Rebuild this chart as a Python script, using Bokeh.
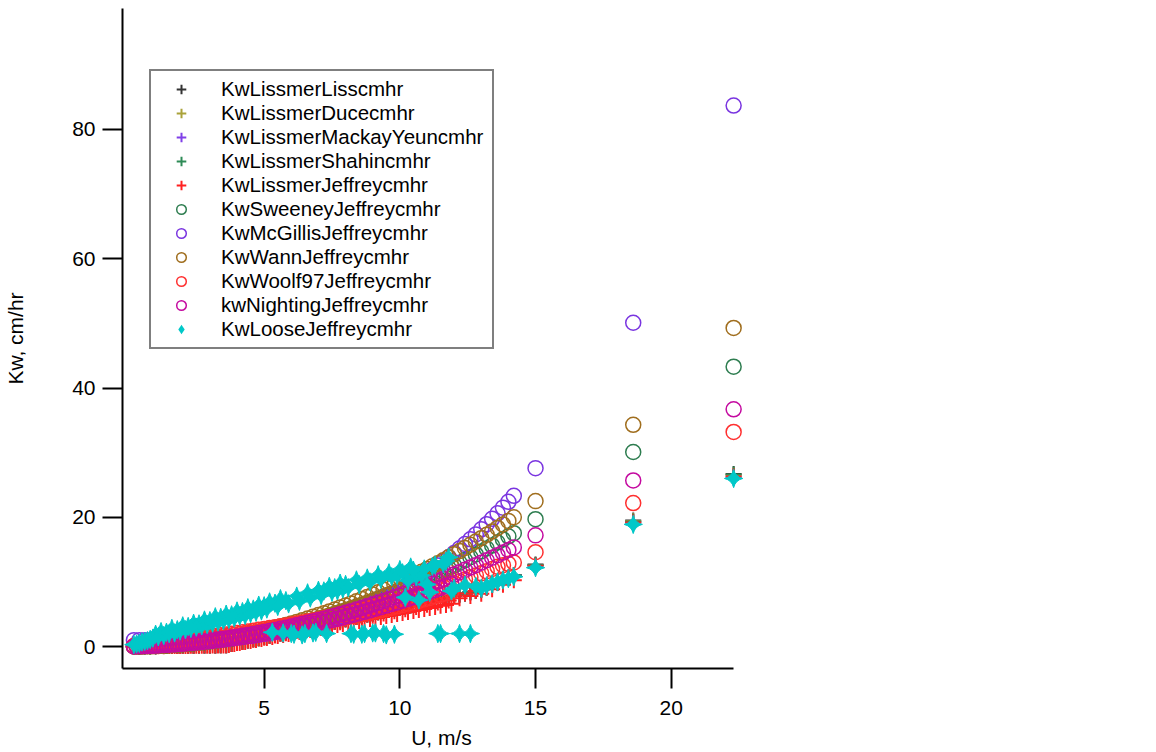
import math
from bokeh.plotting import figure
from bokeh.models import Range1d, FixedTicker, Legend, LegendItem
from bokeh.embed import file_html
from bokeh.resources import INLINE

# Wind speed (m/s), first batch of samples
U = [0.2, 0.4, 0.6, 0.8, 1.0, 1.2, 1.4, 1.6, 1.8, 2.0, 2.2, 2.4, 2.6, 2.8, 3.0, 3.2, 3.4, 3.6,
     3.8, 4.0, 4.2, 4.4, 4.6, 4.8, 5.0, 5.2, 5.4, 5.6, 5.8, 6.0, 6.2, 6.4, 6.6, 6.8, 7.0, 7.2,
     7.4, 7.6, 7.8, 8.0, 8.2, 8.4, 8.6, 8.8, 9.0, 9.2, 9.4, 9.6, 9.8, 10.0, 10.2, 10.4, 10.6,
     10.8, 11.0, 11.2, 11.4, 11.6, 11.8, 12.0, 12.2, 12.4, 12.6, 12.8, 13.0, 13.2, 13.4, 13.6,
     13.8, 14.0, 14.2, 15.0, 18.6, 22.3]
# second batch of samples (other water temperatures)
U_b = [0.3, 0.5, 0.7, 0.9, 1.1, 1.3, 1.5, 1.7, 1.9, 2.1, 2.3, 2.5, 2.7, 2.9, 3.1, 3.3, 3.5, 3.7,
       3.9, 4.1, 4.3, 4.5, 4.7, 4.9, 5.1, 5.3, 5.5, 5.7, 5.9, 6.1, 6.3, 6.5, 6.7, 6.9, 7.1, 7.3,
       7.5, 7.7, 7.9, 8.1, 8.3, 8.5, 8.7, 8.9, 9.1, 9.3, 9.5, 9.7, 9.9, 10.1, 10.3, 10.5, 10.7,
       10.9, 11.1, 11.3, 11.5, 11.7, 11.9]

kw_lissmer_liss = [0.01, 0.02, 0.03, 0.04, 0.05, 0.07, 0.08, 0.09, 0.10, 0.11, 0.12, 0.13, 0.14, 0.15, 0.16, 0.17, 0.18, 0.20,
                   0.38, 0.56, 0.74, 0.93, 1.11, 1.29, 1.47, 1.65, 1.84, 2.02, 2.20, 2.38, 2.57, 2.75, 2.93, 3.11, 3.30, 3.48,
                   3.66, 3.84, 4.03, 4.21, 4.39, 4.57, 4.76, 4.94, 5.12, 5.30, 5.48, 5.67, 5.85, 6.03, 6.21, 6.40, 6.58,
                   6.76, 6.94, 7.13, 7.31, 7.49, 7.67, 7.86, 8.04, 8.22, 8.40, 8.59, 8.77, 9.14, 9.52, 9.90,
                   10.27, 10.65, 11.03, 12.7, 19.5, 26.7]
kw_lissmer_duce = [0.01, 0.02, 0.03, 0.04, 0.05, 0.07, 0.08, 0.09, 0.10, 0.11, 0.12, 0.13, 0.14, 0.15, 0.16, 0.17, 0.18, 0.20,
                   0.38, 0.56, 0.74, 0.93, 1.11, 1.29, 1.47, 1.65, 1.84, 2.02, 2.20, 2.38, 2.57, 2.75, 2.93, 3.11, 3.30, 3.48,
                   3.66, 3.84, 4.03, 4.21, 4.39, 4.57, 4.76, 4.94, 5.12, 5.30, 5.48, 5.67, 5.85, 6.03, 6.21, 6.40, 6.58,
                   6.76, 6.94, 7.13, 7.31, 7.49, 7.67, 7.86, 8.04, 8.22, 8.40, 8.59, 8.77, 9.14, 9.52, 9.90,
                   10.27, 10.65, 11.03, 12.6, 19.4, 26.5]
kw_lissmer_mackay = [0.01, 0.02, 0.03, 0.04, 0.05, 0.07, 0.08, 0.09, 0.10, 0.11, 0.12, 0.13, 0.14, 0.15, 0.16, 0.17, 0.18, 0.20,
                     0.38, 0.56, 0.74, 0.93, 1.11, 1.29, 1.47, 1.65, 1.84, 2.02, 2.20, 2.38, 2.57, 2.75, 2.93, 3.11, 3.30, 3.48,
                     3.66, 3.84, 4.03, 4.21, 4.39, 4.57, 4.76, 4.94, 5.12, 5.30, 5.48, 5.67, 5.85, 6.03, 6.21, 6.40, 6.58,
                     6.76, 6.94, 7.13, 7.31, 7.49, 7.67, 7.86, 8.04, 8.22, 8.40, 8.59, 8.77, 9.14, 9.52, 9.90,
                     10.27, 10.65, 11.03, 12.5, 19.2, 26.2]
kw_lissmer_shahin = [0.01, 0.02, 0.03, 0.04, 0.05, 0.07, 0.08, 0.09, 0.10, 0.11, 0.12, 0.13, 0.14, 0.15, 0.16, 0.17, 0.18, 0.20,
                     0.38, 0.56, 0.74, 0.93, 1.11, 1.29, 1.47, 1.65, 1.84, 2.02, 2.20, 2.38, 2.57, 2.75, 2.93, 3.11, 3.30, 3.48,
                     3.66, 3.84, 4.03, 4.21, 4.39, 4.57, 4.76, 4.94, 5.12, 5.30, 5.48, 5.67, 5.85, 6.03, 6.21, 6.40, 6.58,
                     6.76, 6.94, 7.13, 7.31, 7.49, 7.67, 7.86, 8.04, 8.22, 8.40, 8.59, 8.77, 9.14, 9.52, 9.90,
                     10.27, 10.65, 11.03, 12.6, 19.3, 26.6]
kw_lissmer_jeffrey = [0.01, 0.02, 0.03, 0.04, 0.05, 0.07, 0.08, 0.09, 0.10, 0.11, 0.12, 0.13, 0.14, 0.15, 0.16, 0.17, 0.18, 0.20,
                      0.38, 0.56, 0.69, 0.93, 1.03, 1.29, 1.37, 1.65, 1.71, 2.02, 2.05, 2.38, 2.39, 2.75, 2.72, 3.11, 3.07, 3.48,
                      3.40, 3.84, 3.75, 4.21, 4.08, 4.57, 4.43, 4.94, 4.76, 5.30, 5.10, 5.67, 5.44, 6.03, 5.78, 6.40, 6.12,
                      6.76, 6.45, 7.13, 6.80, 7.49, 7.13, 7.86, 7.48, 8.22, 7.81, 8.59, 8.16, 9.14, 8.85, 9.90,
                      9.55, 10.65, 10.26, 12.5, 19.2, 26.3]
kw_lissmer_jeffrey_b = [0.01, 0.02, 0.03, 0.04, 0.05, 0.06, 0.07, 0.08, 0.09, 0.10, 0.11, 0.12, 0.12, 0.13, 0.14, 0.15, 0.16, 0.24,
                        0.40, 0.55, 0.71, 0.86, 1.02, 1.17, 1.33, 1.48, 1.64, 1.79, 1.95, 2.10, 2.26, 2.41, 2.57, 2.72, 2.88, 3.03,
                        3.19, 3.34, 3.50, 3.65, 3.81, 3.96, 4.12, 4.27, 4.43, 4.58, 4.74, 4.89, 5.05, 5.20, 5.36, 5.51, 5.67,
                        5.82, 5.98, 6.13, 6.29, 6.44, 6.60]
kw_sweeney = [0.00, 0.01, 0.03, 0.06, 0.09, 0.13, 0.17, 0.22, 0.28, 0.35, 0.42, 0.50, 0.59, 0.68, 0.78, 0.89, 1.01, 1.13,
              1.26, 1.39, 1.53, 1.68, 1.84, 2.00, 2.18, 2.35, 2.54, 2.73, 2.93, 3.13, 3.34, 3.56, 3.79, 4.02, 4.26, 4.51,
              4.76, 5.03, 5.29, 5.57, 5.85, 6.14, 6.43, 6.74, 7.05, 7.36, 7.69, 8.02, 8.36, 8.70, 9.05, 9.41, 9.78,
              10.15, 10.53, 10.91, 11.31, 11.71, 12.11, 12.53, 12.95, 13.38, 13.81, 14.25, 14.70, 15.16, 15.62, 16.09,
              16.57, 17.05, 17.54, 19.7, 30.1, 43.3]
kw_mcgillis = [0.99, 0.99, 0.99, 0.99, 1.00, 1.00, 1.01, 1.02, 1.04, 1.05, 1.07, 1.10, 1.13, 1.16, 1.20, 1.25, 1.30, 1.35,
               1.42, 1.49, 1.57, 1.65, 1.75, 1.85, 1.97, 2.09, 2.22, 2.36, 2.51, 2.67, 2.85, 3.03, 3.23, 3.44, 3.67, 3.90,
               4.15, 4.41, 4.69, 4.98, 5.29, 5.61, 5.95, 6.31, 6.68, 7.06, 7.47, 7.89, 8.33, 8.79, 9.27, 9.76, 10.28,
               10.82, 11.37, 11.95, 12.55, 13.16, 13.81, 14.47, 15.15, 15.86, 16.59, 17.35, 18.13, 18.93, 19.76, 20.61,
               21.49, 22.39, 23.32, 27.6, 50.1, 83.7]
kw_wann = [0.00, 0.02, 0.04, 0.06, 0.10, 0.14, 0.19, 0.25, 0.32, 0.40, 0.48, 0.57, 0.67, 0.78, 0.89, 1.02, 1.15, 1.29,
           1.43, 1.59, 1.75, 1.92, 2.10, 2.29, 2.48, 2.68, 2.89, 3.11, 3.34, 3.57, 3.81, 4.06, 4.32, 4.59, 4.86, 5.14,
           5.43, 5.73, 6.04, 6.35, 6.67, 7.00, 7.34, 7.68, 8.04, 8.40, 8.77, 9.14, 9.53, 9.92, 10.32, 10.73, 11.15,
           11.57, 12.00, 12.44, 12.89, 13.35, 13.81, 14.28, 14.77, 15.25, 15.75, 16.25, 16.76, 17.28, 17.81, 18.35,
           18.89, 19.44, 20.00, 22.5, 34.3, 49.3]
kw_wann_b = [0.01, 0.02, 0.04, 0.07, 0.11, 0.15, 0.20, 0.25, 0.32, 0.38, 0.46, 0.55, 0.64, 0.73, 0.84, 0.95, 1.07, 1.20,
             1.33, 1.47, 1.61, 1.77, 1.93, 2.10, 2.27, 2.45, 2.64, 2.84, 3.04, 3.25, 3.46, 3.69, 3.92, 4.16, 4.40, 4.65,
             4.91, 5.18, 5.45, 5.73, 6.01, 6.31, 6.61, 6.92, 7.23, 7.55, 7.88, 8.21, 8.56, 8.91, 9.26, 9.62, 10.00,
             10.37, 10.76, 11.15, 11.55, 11.95, 12.36]
kw_woolf97 = [0.10, 0.20, 0.30, 0.40, 0.50, 0.60, 0.70, 0.80, 0.90, 1.00, 1.10, 1.20, 1.30, 1.41, 1.52, 1.63, 1.74, 1.85,
              1.97, 2.09, 2.21, 2.33, 2.46, 2.59, 2.72, 2.85, 2.99, 3.13, 3.27, 3.42, 3.57, 3.72, 3.88, 4.04, 4.20, 4.37,
              4.54, 4.72, 4.90, 5.08, 5.27, 5.46, 5.66, 5.86, 6.07, 6.28, 6.50, 6.72, 6.95, 7.18, 7.42, 7.66, 7.91,
              8.16, 8.42, 8.68, 8.95, 9.23, 9.51, 9.80, 10.09, 10.39, 10.70, 11.01, 11.33, 11.66, 11.99, 12.33,
              12.58, 12.80, 13.00, 14.6, 22.2, 33.2]
kw_woolf97_b = [0.13, 0.22, 0.31, 0.40, 0.48, 0.57, 0.66, 0.75, 0.84, 0.92, 1.01, 1.10, 1.19, 1.29, 1.39, 1.48, 1.58, 1.68,
                1.79, 1.89, 2.00, 2.11, 2.22, 2.34, 2.45, 2.57, 2.69, 2.82, 2.94, 3.08, 3.21, 3.34, 3.48, 3.63, 3.77, 3.92,
                4.07, 4.23, 4.39, 4.55, 4.72, 4.89, 5.07, 5.25, 5.43, 5.62, 5.82, 6.01, 6.22, 6.42, 6.64, 6.85, 7.07,
                7.30, 7.52, 7.76, 8.00, 8.25, 8.50]
kw_nighting = [0.02, 0.05, 0.09, 0.13, 0.17, 0.22, 0.28, 0.34, 0.41, 0.48, 0.56, 0.64, 0.73, 0.83, 0.93, 1.03, 1.15, 1.26,
               1.39, 1.51, 1.65, 1.79, 1.93, 2.08, 2.24, 2.40, 2.56, 2.74, 2.91, 3.10, 3.28, 3.48, 3.68, 3.88, 4.09, 4.31,
               4.53, 4.76, 4.99, 5.23, 5.47, 5.72, 5.98, 6.24, 6.50, 6.77, 7.05, 7.33, 7.62, 7.91, 8.21, 8.51, 8.82,
               9.14, 9.46, 9.79, 10.12, 10.45, 10.80, 11.15, 11.50, 11.86, 12.22, 12.59, 12.97, 13.35, 13.74, 14.13,
               14.53, 14.93, 15.34, 17.2, 25.7, 36.7]
kw_nighting_b = [0.03, 0.06, 0.09, 0.13, 0.17, 0.22, 0.27, 0.33, 0.39, 0.46, 0.53, 0.61, 0.69, 0.77, 0.86, 0.96, 1.06, 1.16,
                 1.28, 1.39, 1.51, 1.63, 1.76, 1.90, 2.04, 2.18, 2.33, 2.48, 2.64, 2.81, 2.98, 3.15, 3.33, 3.51, 3.70, 3.89,
                 4.09, 4.29, 4.50, 4.71, 4.92, 5.15, 5.37, 5.60, 5.84, 6.08, 6.33, 6.58, 6.83, 7.09, 7.36, 7.63, 7.90,
                 8.18, 8.47, 8.76, 9.05, 9.35, 9.65]
kw_loose = [0.3, 0.5, 0.8, 1.1, 1.9, 2.3, 2.2, 2.8, 2.6, 3.2, 3.1, 3.6, 3.5, 4.1, 4.0, 4.6, 4.5, 5.0,
            4.9, 5.5, 5.4, 6.0, 5.8, 6.4, 6.3, 6.9, 6.7, 7.4, 7.1, 2.0, 7.8, 1.8, 8.3, 2.1, 8.7, 8.6,
            9.3, 9.1, 9.8, 9.6, 2.0, 10.3, 1.9, 10.6, 2.1, 11.1, 2.0, 11.4, 1.9, 11.9, 7.6, 12.3, 10.8,
            11.0, 9.6, 12.4, 2.0, 12.8, 13.8, 9.0, 2.0, 9.5, 2.0, 9.3, 9.0, 9.4, 9.7, 10.0,
            10.3, 10.5, 10.8, 12.2, 18.9, 26.0]
kw_loose_b = [0.4, 0.7, 0.9, 1.3, 1.5, 1.7, 2.0, 2.1, 2.4, 2.6, 2.8, 3.0, 3.2, 3.4, 3.6, 3.8, 4.0, 4.2,
              4.4, 4.7, 4.8, 5.1, 5.3, 5.5, 5.8, 2.2, 6.2, 2.1, 6.6, 1.9, 7.0, 2.0, 7.5, 2.2, 7.9, 2.0,
              8.4, 8.6, 8.9, 9.1, 1.9, 9.6, 2.0, 10.0, 2.1, 10.4, 1.8, 10.8, 11.0, 11.4, 10.2, 11.8, 7.2,
              12.0, 8.4, 12.6, 2.0, 13.2, 8.6]

series_names = ["KwLissmerLisscmhr", "KwLissmerDucecmhr", "KwLissmerMackayYeuncmhr", "KwLissmerShahincmhr",
                "KwLissmerJeffreycmhr", "KwSweeneyJeffreycmhr", "KwMcGillisJeffreycmhr", "KwWannJeffreycmhr",
                "KwWoolf97Jeffreycmhr", "kwNightingJeffreycmhr", "KwLooseJeffreycmhr"]
series_values = [kw_lissmer_liss, kw_lissmer_duce, kw_lissmer_mackay, kw_lissmer_shahin, kw_lissmer_jeffrey,
                 kw_sweeney, kw_mcgillis, kw_wann, kw_woolf97, kw_nighting, kw_loose]
series_values_b = [None, None, None, None, kw_lissmer_jeffrey_b,
                   None, None, kw_wann_b, kw_woolf97_b, kw_nighting_b, kw_loose_b]
series_markers = ["cross"] * 5 + ["circle"] * 5 + ["star4"]
series_colors = ["#333333", "#aaa23a", "#8040e8", "#2e8b57", "#ff2020",
                 "#2e7d50", "#7a35e0", "#a06e1e", "#ff3030", "#c40aa0", "#00c8c8"]

x_ticks = [5, 10, 15, 20]
y_ticks = [0, 20, 40, 60, 80]

FONT = "Liberation Sans"

p = figure(width=1150, height=752,
           x_range=Range1d(-0.22, 23.29), y_range=Range1d(-3.40, 98.72),
           output_backend="svg", toolbar_location=None,
           min_border_left=122, min_border_right=390, min_border_top=8, min_border_bottom=84)
p.outline_line_color = None
p.xgrid.visible = False
p.ygrid.visible = False
p.background_fill_color = "white"
p.border_fill_color = "white"


def draw(xs, ys, mk, col):
    if mk == "cross":
        return p.scatter(xs, ys, marker="cross", size=16, line_color=col, line_width=2)
    if mk == "circle":
        return p.scatter(xs, ys, marker="circle", size=15, line_color=col, fill_color=None, line_width=1.5)
    return p.scatter(xs, ys, marker="square_pin", angle=math.pi / 4, size=13,
                     line_color=col, fill_color=col, line_width=1)


items = []
for name, ys, ysb, mk, col in zip(series_names, series_values, series_values_b, series_markers, series_colors):
    r = draw(U, ys, mk, col)
    if ysb is not None:
        draw(U_b, ysb, mk, col)
    if mk == "star4":
        # zero-size twin of the same series, used only as the upright legend swatch
        r = p.scatter(U, ys, marker="diamond", size=0, line_color=col, line_width=0, fill_color=col)
    items.append(LegendItem(label=name, renderers=[r]))

legend = Legend(items=items, location=(27, 319), margin=0, padding=6, spacing=0,
                glyph_width=48, glyph_height=24, label_height=24, label_width=265, label_standoff=16,
                label_text_font=FONT, label_text_font_size="20.5px", label_text_color="black",
                border_line_color="black", border_line_width=2,
                background_fill_color="white", background_fill_alpha=1.0)
p.add_layout(legend)

for ax, ticks in ((p.xaxis[0], x_ticks), (p.yaxis[0], y_ticks)):
    ax.ticker = FixedTicker(ticks=ticks, minor_ticks=[])
    ax.major_tick_out = 20
    ax.major_tick_in = 0
    ax.minor_tick_out = 0
    ax.minor_tick_in = 0
    ax.axis_line_width = 2
    ax.major_tick_line_width = 2
    ax.axis_line_color = "black"
    ax.major_tick_line_color = "black"
    ax.major_label_text_font = FONT
    ax.major_label_text_font_size = "21px"
    ax.major_label_text_color = "black"
    ax.axis_label_text_font = FONT
    ax.axis_label_text_font_size = "21px"
    ax.axis_label_text_font_style = "normal"
    ax.axis_label_text_color = "black"

p.xaxis[0].bounds = (-0.22, 22.3)
p.xaxis[0].axis_label = "U, m/s"
p.xaxis[0].major_label_standoff = 12
p.xaxis[0].axis_label_standoff = 8
p.yaxis[0].axis_label = "Kw, cm/hr"
p.yaxis[0].major_label_standoff = 7
p.yaxis[0].axis_label_standoff = 42

open("out.html", "w").write(file_html(p, INLINE))
